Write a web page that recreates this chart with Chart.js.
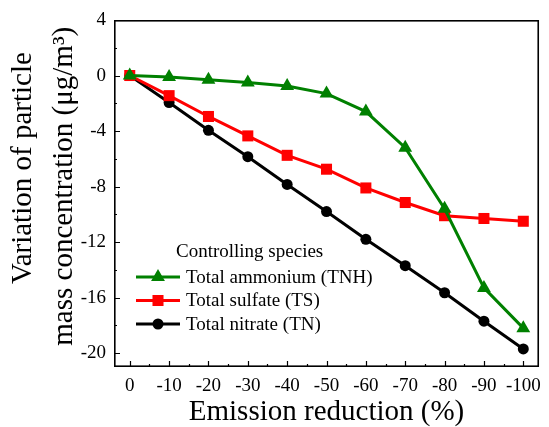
<!DOCTYPE html>
<html>
<head>
<meta charset="utf-8">
<script src="https://cdn.jsdelivr.net/npm/chart.js@4.4.1/dist/chart.umd.min.js"></script>
<style>
  html, body { margin: 0; padding: 0; background: #fff; }
  #wrap { width: 549px; height: 427px; }
</style>
</head>
<body>
<div id="wrap"><canvas id="grafico" width="549" height="427"></canvas></div>
<script>
// ---------------------------------------------------------------------------
// DATA
// ---------------------------------------------------------------------------
const reducao = [0, -10, -20, -30, -40, -50, -60, -70, -80, -90, -100];
const totalAmmonium = [0, -0.1, -0.3, -0.5, -0.75, -1.3, -2.6, -5.2, -9.6, -15.3, -18.2];
const totalSulfate  = [0, -1.45, -2.95, -4.35, -5.75, -6.75, -8.1, -9.15, -10.1, -10.3, -10.5];
const totalNitrate  = [0, -1.95, -3.95, -5.85, -7.85, -9.8, -11.8, -13.7, -15.65, -17.7, -19.7];

const xTicks = [0, -10, -20, -30, -40, -50, -60, -70, -80, -90, -100];
const xMinor = [-5, -15, -25, -35, -45, -55, -65, -75, -85, -95];
const yTicks = [4, 0, -4, -8, -12, -16, -20];
const yMinor = [2, -2, -6, -10, -14, -18];

const legendTitle = "Controlling species";
const FONTE = "'Liberation Serif', 'Times New Roman', serif";

const series = [
    { label: "Total ammonium (TNH)", data: totalAmmonium, color: "#008000", style: "triangle", radius: 8 },
    { label: "Total sulfate (TS)",   data: totalSulfate,  color: "#ff0000", style: "rect",     radius: 7.8 },
    { label: "Total nitrate (TN)",   data: totalNitrate,  color: "#000000", style: "circle",   radius: 5.5 }
];

// ---------------------------------------------------------------------------
// PLUGIN: moldura, ticks internos e legenda
// ---------------------------------------------------------------------------
const molduraPlugin = {
    id: "moldura",
    afterDatasetsDraw(chart) {
        const { ctx, chartArea: a, scales } = chart;
        ctx.save();
        ctx.strokeStyle = "#000";
        ctx.lineWidth = 1.6;
        ctx.strokeRect(a.left + 0.8, a.top + 0.8, a.right - a.left - 1.6, a.bottom - a.top - 1.6);

        ctx.lineWidth = 1.2;
        ctx.beginPath();
        xTicks.forEach(v => {
            const px = Math.round(scales.x.getPixelForValue(v)) + 0.5;
            ctx.moveTo(px, a.bottom); ctx.lineTo(px, a.bottom - 6);
        });
        xMinor.forEach(v => {
            const px = Math.round(scales.x.getPixelForValue(v)) + 0.5;
            ctx.moveTo(px, a.bottom); ctx.lineTo(px, a.bottom - 3);
        });
        yTicks.forEach(v => {
            const py = Math.round(scales.y.getPixelForValue(v)) + 0.5;
            ctx.moveTo(a.left, py); ctx.lineTo(a.left + 6, py);
        });
        yMinor.forEach(v => {
            const py = Math.round(scales.y.getPixelForValue(v)) + 0.5;
            ctx.moveTo(a.left, py); ctx.lineTo(a.left + 3, py);
        });
        ctx.stroke();

        // legenda
        ctx.fillStyle = "#000";
        ctx.font = "19px " + FONTE;
        ctx.textBaseline = "middle";
        ctx.textAlign = "left";
        ctx.fillText(legendTitle, 176, 252);

        series.forEach((s, i) => {
            const y = 277 + i * 23.5;
            ctx.strokeStyle = s.color;
            ctx.lineWidth = 3;
            ctx.beginPath();
            ctx.moveTo(136, y); ctx.lineTo(180, y);
            ctx.stroke();
            ctx.fillStyle = s.color;
            Chart.helpers.drawPoint(ctx, { pointStyle: s.style, radius: s.radius, borderWidth: 0 }, 158, y);
            ctx.fillStyle = "#000";
            ctx.fillText(s.label, 186, y + 1);
        });
        ctx.restore();
    }
};

// ---------------------------------------------------------------------------
// GRAFICO
// ---------------------------------------------------------------------------
new Chart(document.getElementById("grafico"), {
    type: "line",
    data: {
        datasets: series.map(s => ({
            label: s.label,
            data: s.data.map((v, i) => ({ x: reducao[i], y: v })),
            borderColor: s.color,
            backgroundColor: s.color,
            borderWidth: 3,
            pointStyle: s.style,
            pointRadius: s.radius,
            pointBorderWidth: 0,
            pointHoverRadius: s.radius,
            tension: 0
        }))
    },
    options: {
        responsive: false,
        animation: false,
        events: [],
        layout: { padding: { top: 20, right: 4, left: 0, bottom: 0 } },
        plugins: { legend: { display: false }, tooltip: { enabled: false } },
        scales: {
            x: {
                type: "linear",
                reverse: true,
                min: -104,
                max: 4,
                afterBuildTicks: sc => { sc.ticks = xTicks.map(v => ({ value: v })); },
                afterFit: sc => { sc.height = 60; },
                grid: { display: false, drawTicks: false },
                border: { display: false },
                ticks: { color: "#000", font: { family: FONTE, size: 19 }, padding: 8, maxRotation: 0, autoSkip: false },
                title: {
                    display: true,
                    text: "Emission reduction (%)",
                    color: "#000",
                    font: { family: FONTE, size: 29, lineHeight: 1 },
                    padding: 0
                }
            },
            y: {
                min: -21,
                max: 4,
                afterBuildTicks: sc => { sc.ticks = yTicks.map(v => ({ value: v })); },
                afterFit: sc => { sc.width = 114; },
                grid: { display: false, drawTicks: false },
                border: { display: false },
                ticks: { color: "#000", font: { family: FONTE, size: 19 }, padding: 8 },
                title: {
                    display: true,
                    // espaços à esquerda deslocam cada linha para cima, como no original
                    text: ["       Variation of particle", "  mass concentration (\u03bcg/m\u00b3)"],
                    color: "#000",
                    font: { family: FONTE, size: 29, lineHeight: 1.4 },
                    padding: { top: 3, bottom: 0 }
                }
            }
        }
    },
    plugins: [molduraPlugin]
});
</script>
</body>
</html>
